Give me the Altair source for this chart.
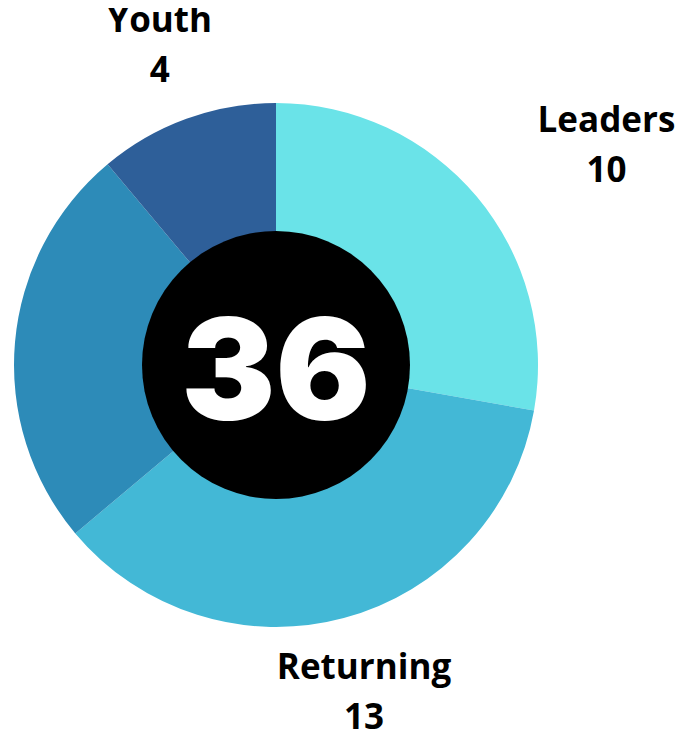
import math
import altair as alt
import pandas as pd

categories = ["Leaders", "Returning", "Other", "Youth"]
values = [10, 13, 9, 4]
colors = ["#6ae3e8", "#43b8d6", "#2d8bb8", "#2e5f99"]

df = pd.DataFrame({"category": categories, "value": values, "idx": list(range(len(categories)))})

CX, CY = 268, 347
base = alt.Chart(df)

donut = base.mark_arc(innerRadius=133, outerRadius=262).encode(
    x=alt.value(CX), y=alt.value(CY),
    theta=alt.Theta("value:Q", stack=True),
    color=alt.Color("category:N", scale=alt.Scale(domain=categories, range=colors), legend=None),
    order=alt.Order("idx:Q"),
)

hole = base.transform_aggregate(total="sum(value)").mark_arc(
    radius=134, theta=0, theta2=2 * math.pi, color="black"
).encode(x=alt.value(CX), y=alt.value(CY))

center = base.transform_aggregate(total="sum(value)").mark_text(
    font="Inter", fontWeight=900, fontSize=141, color="white", align="center", baseline="middle"
).encode(x=alt.value(CX), y=alt.value(CY + 13), text="total:Q")

lab = base.transform_joinaggregate(total="sum(value)").transform_window(
    cum="sum(value)", sort=[alt.SortField("idx")], frame=[None, 0]
).transform_calculate(
    mid="(datum.cum - datum.value / 2) / datum.total * 2 * PI",
    label="datum.category + '\\n' + datum.value",
)

text_style = dict(font="Open Sans", fontWeight="bold", fontSize=35, color="black",
                  align="center", baseline="middle", lineBreak="\n", lineHeight=50, dy=-25)

labels_main = lab.transform_filter(
    alt.FieldOneOfPredicate(field="category", oneOf=["Youth", "Returning"])
).mark_text(**text_style).encode(
    x=alt.value(CX), y=alt.value(CY),
    theta=alt.Theta("mid:Q", scale=None),
    radius=alt.value(340),
    text="label:N",
)

labels_right = lab.transform_filter(
    alt.FieldEqualPredicate(field="category", equal="Leaders")
).mark_text(dx=70, **text_style).encode(
    x=alt.value(CX), y=alt.value(CY),
    theta=alt.Theta("mid:Q", scale=None),
    radius=alt.value(340),
    text="label:N",
)

chart = alt.layer(donut, hole, center, labels_main, labels_right).properties(
    width=669, height=716,
    padding={"left": 0, "top": 10, "right": 0, "bottom": 0},
    autosize=alt.AutoSizeParams(type="none"),
).configure_view(stroke=None)

chart.save("out.html", embed_options={"renderer": "svg", "actions": False})
